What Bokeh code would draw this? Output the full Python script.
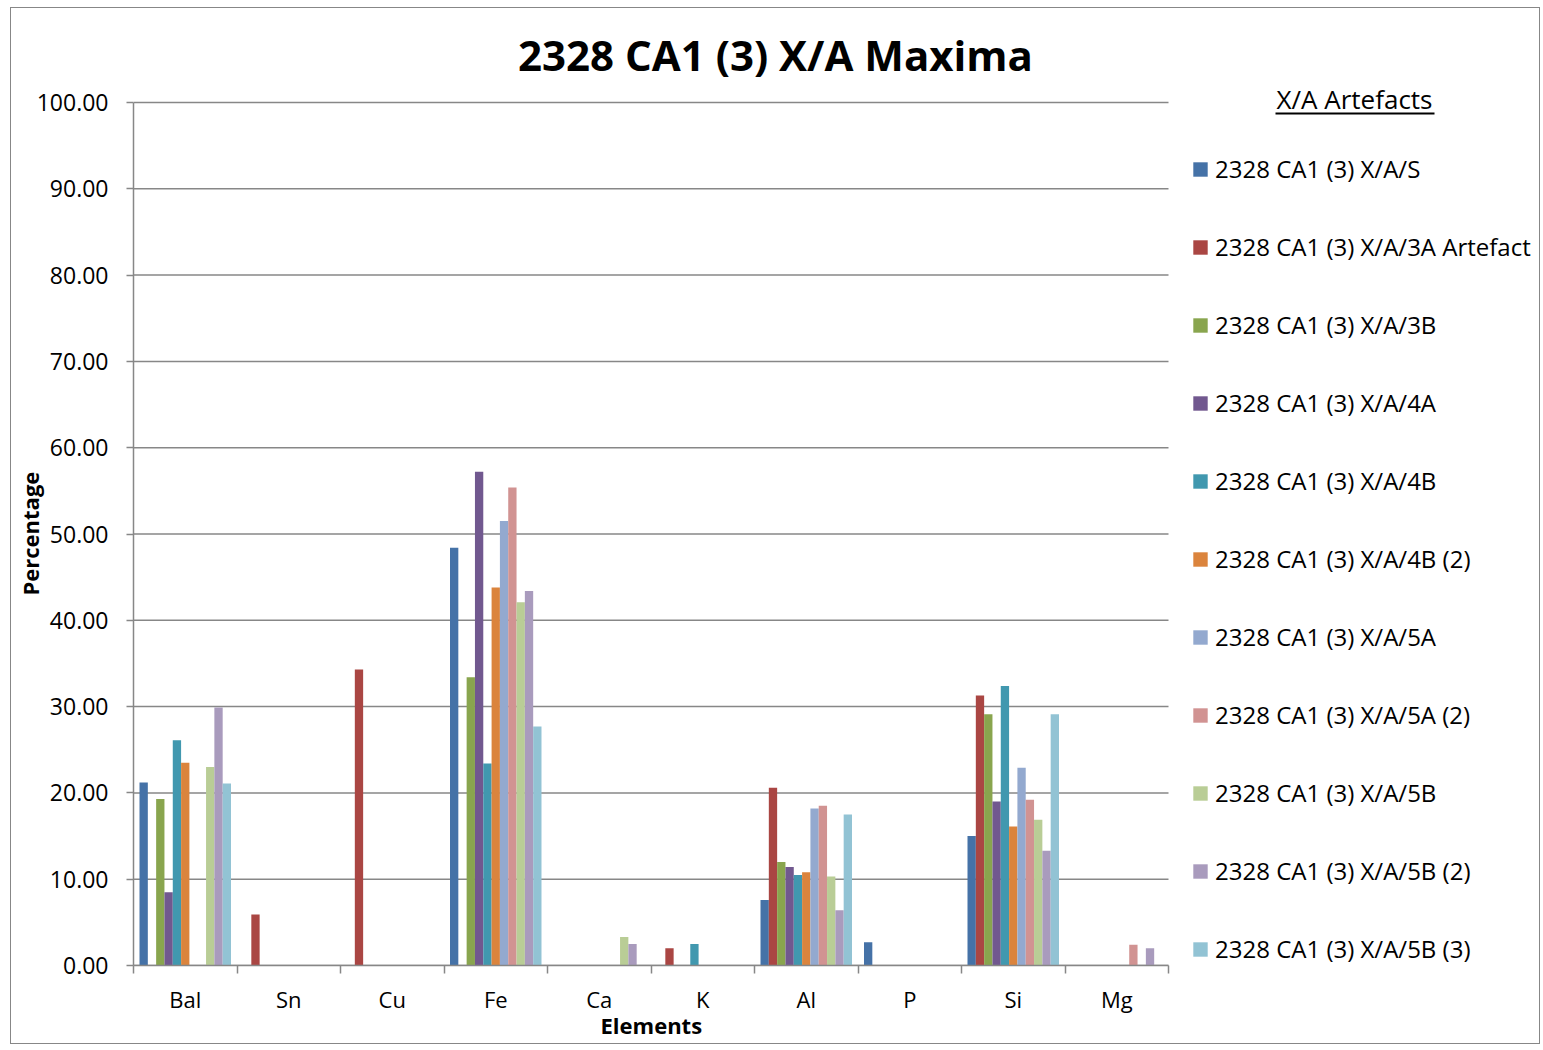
import numpy as np
from bokeh.plotting import figure
from bokeh.models import (Range1d, FixedTicker, NumeralTickFormatter, Legend, LegendItem,
                          Label, BoxAnnotation, ColumnDataSource, Title)
from bokeh.embed import file_html
from bokeh.resources import INLINE

# ---------------- data ----------------
elements = ["Bal", "Sn", "Cu", "Fe", "Ca", "K", "Al", "P", "Si", "Mg"]
series_names = [
    "2328 CA1 (3) X/A/S",
    "2328 CA1 (3) X/A/3A Artefact",
    "2328 CA1 (3) X/A/3B",
    "2328 CA1 (3) X/A/4A",
    "2328 CA1 (3) X/A/4B",
    "2328 CA1 (3) X/A/4B (2)",
    "2328 CA1 (3) X/A/5A",
    "2328 CA1 (3) X/A/5A (2)",
    "2328 CA1 (3) X/A/5B",
    "2328 CA1 (3) X/A/5B (2)",
    "2328 CA1 (3) X/A/5B (3)",
]
xa_S = [21.2, 0, 0, 48.4, 0, 0, 7.6, 2.7, 15.0, 0]
xa_3A = [0, 5.9, 34.3, 0, 0, 2.0, 20.6, 0, 31.3, 0]
xa_3B = [19.3, 0, 0, 33.4, 0, 0, 12.0, 0, 29.1, 0]
xa_4A = [8.5, 0, 0, 57.2, 0, 0, 11.4, 0, 19.0, 0]
xa_4B = [26.1, 0, 0, 23.4, 0, 2.5, 10.5, 0, 32.4, 0]
xa_4B_2 = [23.5, 0, 0, 43.8, 0, 0, 10.8, 0, 16.1, 0]
xa_5A = [0, 0, 0, 51.5, 0, 0, 18.2, 0, 22.9, 0]
xa_5A_2 = [0, 0, 0, 55.4, 0, 0, 18.5, 0, 19.2, 2.4]
xa_5B = [23.0, 0, 0, 42.1, 3.3, 0, 10.3, 0, 16.9, 0]
xa_5B_2 = [29.9, 0, 0, 43.4, 2.5, 0, 6.4, 0, 13.3, 2.0]
xa_5B_3 = [21.1, 0, 0, 27.7, 0, 0, 17.5, 0, 29.1, 0]
series_values = [xa_S, xa_3A, xa_3B, xa_4A, xa_4B, xa_4B_2, xa_5A, xa_5A_2, xa_5B, xa_5B_2, xa_5B_3]
y_ticks = [0, 10, 20, 30, 40, 50, 60, 70, 80, 90, 100]

colors = ["#4572A7", "#AA4643", "#89A54E", "#71588F", "#4198AF", "#DB843D",
          "#93A9CF", "#D19392", "#B9CD96", "#A99BBD", "#92C3D4"]

FONT = "Open Sans"
GRAY = "#878787"

# ---------------- layout (pixels) ----------------
W, H = 1530, 1037
ML, MB = 122, 80                    # left / bottom panels
PLOT_W, PLOT_H = 1035, 863          # size of the bar area inside the frame
FRAME_W, FRAME_H = W - ML, H - MB
n_cat = len(elements)
y_max = y_ticks[-1]
x_end = n_cat * FRAME_W / PLOT_W
y_end = y_max * FRAME_H / PLOT_H

p = figure(width=W, height=H, x_range=Range1d(0, x_end), y_range=Range1d(0, y_end),
           output_backend="svg", toolbar_location=None, title_location=None,
           min_border_left=ML, min_border_right=0, min_border_top=0, min_border_bottom=MB)
p.styles = {"margin-left": "10px", "margin-top": "7px", "border": "1px solid " + GRAY}
p.outline_line_color = None
p.background_fill_color = "white"
p.border_fill_color = "white"
p.xgrid.visible = False
p.ygrid.visible = False

# horizontal gridlines limited to the category area
p.segment(x0=[0] * len(y_ticks), x1=[n_cat] * len(y_ticks), y0=y_ticks, y1=y_ticks,
          line_color=GRAY, line_width=1.5)

n = len(series_values)
bar_w = 0.884 / n
centers = np.arange(n_cat) + 0.5
items = []
for j, (name, vals, col) in enumerate(zip(series_names, series_values, colors)):
    xs = centers + (j - (n - 1) / 2) * bar_w
    src = ColumnDataSource(dict(x=xs, top=vals))
    r = p.vbar(x="x", top="top", width=bar_w, source=src, fill_color=col, line_color=None)
    items.append(LegendItem(label=name, renderers=[r]))

# y axis
yax = p.yaxis[0]
yax.bounds = (0, y_max)
yax.ticker = FixedTicker(ticks=y_ticks)
yax.formatter = NumeralTickFormatter(format="0.00")
yax.major_tick_out = 7
yax.major_tick_in = 0
yax.minor_tick_out = 0
yax.minor_tick_in = 0
yax.axis_line_color = GRAY
yax.axis_line_width = 1.5
yax.major_tick_line_color = GRAY
yax.major_tick_line_width = 1.5
yax.major_label_text_font = FONT
yax.major_label_text_font_size = "23px"
yax.major_label_text_color = "black"
yax.major_label_standoff = 18

# x axis
xax = p.xaxis[0]
xax.bounds = (0, n_cat)
xax.ticker = FixedTicker(ticks=list(centers), minor_ticks=list(range(n_cat + 1)))
xax.major_label_overrides = {float(c): e for c, e in zip(centers, elements)}
xax.major_tick_out = 0
xax.major_tick_in = 0
xax.minor_tick_out = 8
xax.minor_tick_in = 0
xax.minor_tick_line_color = GRAY
xax.minor_tick_line_width = 1.5
xax.axis_line_color = GRAY
xax.axis_line_width = 1.5
xax.major_label_text_font = FONT
xax.major_label_text_font_size = "22px"
xax.major_label_text_color = "black"
xax.major_label_standoff = 10

# axis titles placed along their axes
p.add_layout(Title(text="Elements", align="left", offset=467, vertical_align="top", standoff=-14,
                   text_font=FONT, text_font_style="bold", text_font_size="22px",
                   text_color="black"), "below")
p.add_layout(Title(text="Percentage", align="left", offset=370, vertical_align="bottom", standoff=-22,
                   text_font=FONT, text_font_style="bold", text_font_size="22px",
                   text_color="black"), "left")

# legend
legend = Legend(items=items, location=(1058, 0), orientation="vertical",
                border_line_color=None, background_fill_alpha=0, padding=0, margin=0,
                spacing=45, label_height=32, label_standoff=6, glyph_width=18, glyph_height=18,
                label_text_font=FONT, label_text_font_size="24px", label_text_color="black")
p.add_layout(legend)

# chart title and legend title
p.add_layout(Label(x=642, y=911, x_units="screen", y_units="screen", text="2328 CA1 (3) X/A Maxima",
                   text_font=FONT, text_font_style="bold", text_font_size="42px",
                   text_align="center", text_baseline="middle", text_color="black"))
p.add_layout(Label(x=1221, y=867, x_units="screen", y_units="screen", text="X/A Artefacts",
                   text_font=FONT, text_font_size="26px",
                   text_align="center", text_baseline="middle", text_color="black"))
p.add_layout(BoxAnnotation(left=1142, right=1301, bottom=851, top=853,
                           left_units="screen", right_units="screen",
                           bottom_units="screen", top_units="screen",
                           fill_color="black", fill_alpha=1, line_color=None))

open("out.html", "w").write(file_html(p, INLINE))
